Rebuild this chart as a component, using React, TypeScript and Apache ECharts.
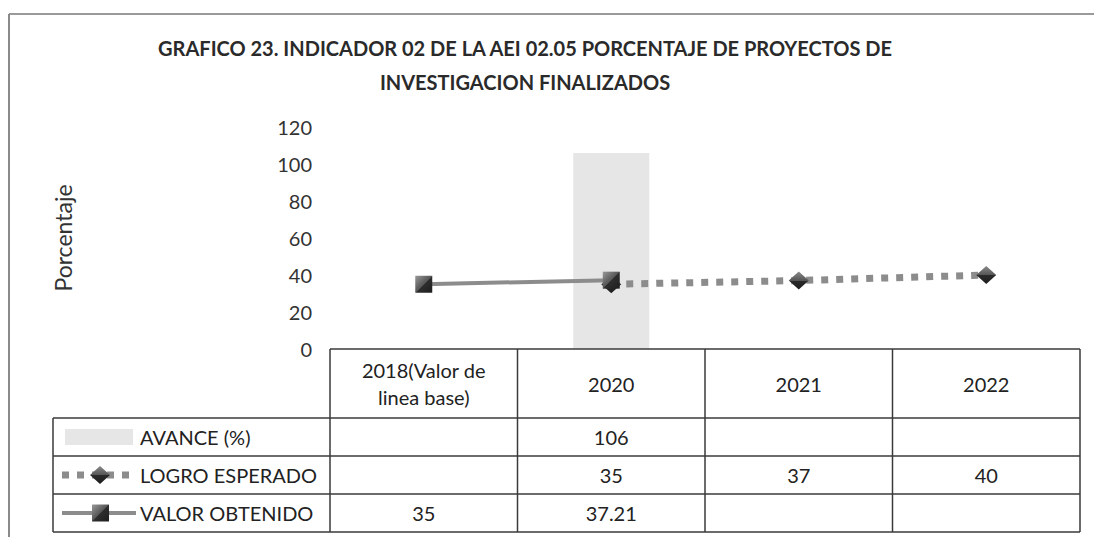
import React, { useEffect, useRef } from "react";
import * as echarts from "echarts";

const titleLines = [
  "GRAFICO 23. INDICADOR 02 DE LA AEI 02.05 PORCENTAJE DE PROYECTOS DE",
  "INVESTIGACION FINALIZADOS",
];
const categories = ["2018(Valor de\nlinea base)", "2020", "2021", "2022"];
const avance: (number | null)[] = [null, 106, null, null];
const logroEsperado: (number | null)[] = [null, 35, 37, 40];
const valorObtenido: (number | null)[] = [35, 37.21, null, null];
const seriesNames = ["AVANCE (%)", "LOGRO ESPERADO", "VALOR OBTENIDO"];
const yAxisName = "Porcentaje";
const yMin = 0;
const yMax = 120;
const yInterval = 20;

const FONT = "Lato, 'Noto Sans', sans-serif";
const TXT = "#222";
const LINE = "#3a3a3a";

export default function App() {
  const ref = useRef<HTMLDivElement>(null);

  useEffect(() => {
    if (!ref.current) return;
    const chart = echarts.init(ref.current, null, { renderer: "svg" });

    const squareGrad = new echarts.graphic.LinearGradient(0, 0, 1, 1, [
      { offset: 0, color: "#9a9a9a" },
      { offset: 0.5, color: "#555" },
      { offset: 0.51, color: "#2e2e2e" },
      { offset: 1, color: "#1e1e1e" },
    ]);
    const diamondGrad = new echarts.graphic.LinearGradient(0, 0, 0, 1, [
      { offset: 0, color: "#8a8a8a" },
      { offset: 0.5, color: "#555" },
      { offset: 0.51, color: "#2a2a2a" },
      { offset: 1, color: "#1e1e1e" },
    ]);

    const option: any = {
      animation: false,
      backgroundColor: "#ffffff",
      title: {
        text: titleLines.join("\n"),
        left: 520,
        top: 26,
        textAlign: "center",
        textStyle: {
          fontFamily: FONT,
          fontSize: 20,
          fontWeight: "bold",
          color: "#2a2a2a",
          lineHeight: 34,
        },
      },
      grid: { left: 330, right: 14, top: 127, bottom: 188, containLabel: false },
      xAxis: {
        type: "category",
        data: categories,
        boundaryGap: true,
        axisLine: { show: false },
        axisTick: { show: false },
        axisLabel: { show: false },
        splitLine: { show: false },
      },
      yAxis: {
        type: "value",
        min: yMin,
        max: yMax,
        interval: yInterval,
        name: yAxisName,
        nameLocation: "middle",
        nameRotate: 90,
        nameGap: 256,
        nameTextStyle: { fontFamily: FONT, fontSize: 23, color: "#333" },
        axisLine: { show: false },
        axisTick: { show: false },
        splitLine: { show: false },
        axisLabel: { fontFamily: FONT, fontSize: 20, color: "#333", margin: 18 },
      },
      series: [
        {
          name: seriesNames[0],
          type: "bar",
          data: avance,
          barWidth: 76,
          itemStyle: { color: "#e6e6e6" },
          z: 1,
        },
        {
          name: seriesNames[1],
          type: "line",
          data: logroEsperado,
          symbol: "diamond",
          symbolSize: [20, 18],
          itemStyle: { color: diamondGrad },
          lineStyle: { color: "#8c8c8c", width: 7, type: [7, 8], cap: "butt" },
          z: 3,
        },
        {
          name: seriesNames[2],
          type: "line",
          data: valorObtenido,
          symbol: "rect",
          symbolSize: 17,
          itemStyle: { color: squareGrad },
          lineStyle: { color: "#8c8c8c", width: 4 },
          z: 4,
        },
      ],
    };
    chart.setOption(option);

    const xs = categories.map((_, i) => chart.convertToPixel({ xAxisIndex: 0 }, i) as number);
    const band = xs.length > 1 ? xs[1] - xs[0] : 188;
    const bounds = xs.map((x) => x - band / 2).concat([xs[xs.length - 1] + band / 2]);
    const yBase = chart.convertToPixel({ yAxisIndex: 0 }, 0) as number;
    const tableLeft = 53;
    const headerBottom = yBase + 69;
    const rowH = 38;
    const rowsY = [headerBottom, headerBottom + rowH, headerBottom + 2 * rowH, headerBottom + 3 * rowH];
    const right = bounds[bounds.length - 1];

    const g: any[] = [];
    const hLine = (x1: number, x2: number, y: number) =>
      g.push({ type: "line", shape: { x1, y1: y, x2, y2: y }, style: { stroke: LINE, lineWidth: 1.5 }, z: 10 });
    const vLine = (x: number, y1: number, y2: number) =>
      g.push({ type: "line", shape: { x1: x, y1, x2: x, y2 }, style: { stroke: LINE, lineWidth: 1.5 }, z: 10 });
    const txt = (text: string, x: number, y: number, align = "center", size = 20) =>
      g.push({
        type: "text",
        x,
        y,
        style: { text, fontFamily: FONT, fontSize: size, fill: TXT, align, verticalAlign: "middle", lineHeight: 27 },
        z: 11,
      });

    // frame
    g.push({ type: "line", shape: { x1: 9, y1: 14, x2: 1094, y2: 14 }, style: { stroke: "#9a9a9a", lineWidth: 2 } });
    g.push({ type: "line", shape: { x1: 9, y1: 14, x2: 9, y2: 537 }, style: { stroke: "#8a8a8a", lineWidth: 2 } });

    // table lines
    hLine(bounds[0], right, yBase);
    rowsY.forEach((y) => hLine(tableLeft, right, y));
    bounds.forEach((x) => vLine(x, yBase, rowsY[3]));
    vLine(tableLeft, rowsY[0], rowsY[3]);

    // header
    categories.forEach((c, i) => txt(c, xs[i], (yBase + headerBottom) / 2));

    // rows
    const rows = [avance, logroEsperado, valorObtenido];
    rows.forEach((vals, r) => {
      const cy = rowsY[r] + rowH / 2;
      txt(seriesNames[r], 140, cy, "left", 20);
      vals.forEach((v, i) => {
        if (v !== null && v !== undefined) txt(String(v), xs[i], cy);
      });
    });

    // legend keys
    const c0 = rowsY[0] + rowH / 2;
    g.push({ type: "rect", shape: { x: 65, y: c0 - 8, width: 68, height: 16 }, style: { fill: "#e6e6e6" }, z: 11 });
    const c1 = rowsY[1] + rowH / 2;
    g.push({
      type: "line",
      shape: { x1: 62, y1: c1, x2: 136, y2: c1 },
      style: { stroke: "#8c8c8c", lineWidth: 7, lineDash: [7, 8] },
      z: 11,
    });
    g.push({
      type: "polygon",
      shape: { points: [[100, c1 - 9], [110, c1], [100, c1 + 9], [90, c1]] },
      style: { fill: diamondGrad },
      z: 12,
    });
    const c2 = rowsY[2] + rowH / 2;
    g.push({
      type: "line",
      shape: { x1: 62, y1: c2, x2: 136, y2: c2 },
      style: { stroke: "#8c8c8c", lineWidth: 4 },
      z: 11,
    });
    g.push({
      type: "rect",
      shape: { x: 92, y: c2 - 8.5, width: 17, height: 17 },
      style: { fill: squareGrad },
      z: 12,
    });

    chart.setOption({ graphic: { elements: g } });

    return () => chart.dispose();
  }, []);

  return <div ref={ref} style={{ width: 1094, height: 537, position: "absolute", left: 0, top: 0 }} />;
}
